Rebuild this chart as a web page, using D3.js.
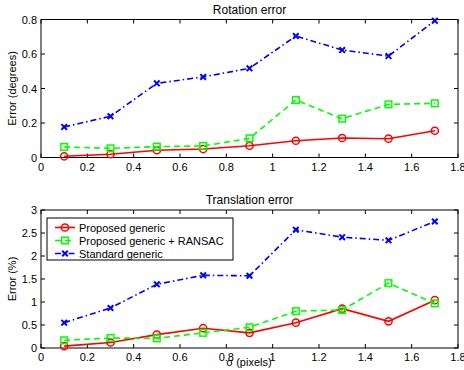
<!DOCTYPE html>
<html>
<head>
<meta charset="utf-8">
<script src="https://cdn.jsdelivr.net/npm/d3@7"></script>
<style>
	body { margin: 0; background: #fff; }
	svg text { font-family: "Liberation Sans", Arial, sans-serif; fill: #000; }
</style>
</head>
<body>
<div id="vis"></div>
<script>
const width = 464;
const height = 370;

const sigma = [0.1, 0.3, 0.5, 0.7, 0.9, 1.1, 1.3, 1.5, 1.7];

const rotProposed = [0.007, 0.019, 0.042, 0.049, 0.068, 0.097, 0.113, 0.109, 0.155];
const rotRansac   = [0.061, 0.053, 0.063, 0.067, 0.111, 0.333, 0.225, 0.308, 0.314];
const rotStandard = [0.177, 0.239, 0.43, 0.467, 0.517, 0.704, 0.623, 0.588, 0.793];

const transProposed = [0.04, 0.12, 0.29, 0.43, 0.33, 0.55, 0.855, 0.58, 1.04];
const transRansac   = [0.167, 0.217, 0.21, 0.33, 0.45, 0.80, 0.826, 1.41, 0.97];
const transStandard = [0.55, 0.87, 1.385, 1.58, 1.57, 2.57, 2.41, 2.34, 2.75];

const xTicks = [0, 0.2, 0.4, 0.6, 0.8, 1, 1.2, 1.4, 1.6, 1.8];
const rotTicks = [0, 0.2, 0.4, 0.6, 0.8];
const transTicks = [0, 0.5, 1, 1.5, 2, 2.5, 3];

const seriesNames = ["Proposed generic", "Proposed generic + RANSAC", "Standard generic"];
const seriesStyle = [
	{ color: "#ff0000", dash: null, marker: "circle" },
	{ color: "#00ff00", dash: "6,4", marker: "square" },
	{ color: "#0000ff", dash: "6,3,1.5,3", marker: "x" }
];

const svg = d3.select("#vis").append("svg")
	.attr("width", width)
	.attr("height", height);

const left = 41, right = 458;

function fmt(d) {
	return d === 0 ? "0" : String(+d.toFixed(1));
}

function drawMarker(g, type, x, y, color) {
	if (type === "circle") {
		g.append("circle").attr("cx", x).attr("cy", y).attr("r", 3.6)
			.attr("fill", "none").attr("stroke", color).attr("stroke-width", 1.5);
	} else if (type === "square") {
		g.append("rect").attr("x", x - 3.3).attr("y", y - 3.3).attr("width", 6.6).attr("height", 6.6)
			.attr("fill", "none").attr("stroke", color).attr("stroke-width", 1.5);
	} else {
		const s = 2.8;
		g.append("path").attr("d", `M${x - s},${y - s}L${x + s},${y + s}M${x - s},${y + s}L${x + s},${y - s}`)
			.attr("stroke", color).attr("stroke-width", 2).attr("fill", "none");
	}
}

function panel(top, bottom, yMax, yTicks, data, title, ylabel, legend) {
	const x = d3.scaleLinear().domain([0, 1.8]).range([left, right]);
	const y = d3.scaleLinear().domain([0, yMax]).range([bottom, top]);
	const g = svg.append("g");

	// ticks inside, mirrored on top and right
	const tl = 4;
	xTicks.forEach(t => {
		g.append("line").attr("x1", x(t)).attr("x2", x(t)).attr("y1", bottom).attr("y2", bottom - tl).attr("stroke", "#000");
		g.append("line").attr("x1", x(t)).attr("x2", x(t)).attr("y1", top).attr("y2", top + tl).attr("stroke", "#000");
		g.append("text").attr("x", x(t)).attr("y", bottom + 13)
			.attr("text-anchor", "middle").style("font-size", "11px").text(fmt(t));
	});
	yTicks.forEach(t => {
		g.append("line").attr("x1", left).attr("x2", left + tl).attr("y1", y(t)).attr("y2", y(t)).attr("stroke", "#000");
		g.append("line").attr("x1", right).attr("x2", right - tl).attr("y1", y(t)).attr("y2", y(t)).attr("stroke", "#000");
		g.append("text").attr("x", left - 4).attr("y", y(t) + 4)
			.attr("text-anchor", "end").style("font-size", "11px").text(fmt(t));
	});

	g.append("rect").attr("x", left).attr("y", top).attr("width", right - left).attr("height", bottom - top)
		.attr("fill", "none").attr("stroke", "#000").attr("stroke-width", 1);

	g.append("text").attr("x", (left + right) / 2).attr("y", top - 6)
		.attr("text-anchor", "middle").style("font-size", "12px").text(title);

	g.append("text")
		.attr("transform", `translate(16,${(top + bottom) / 2}) rotate(-90)`)
		.attr("text-anchor", "middle").style("font-size", "11px").text(ylabel);

	const line = d3.line().x((d, i) => x(sigma[i])).y(d => y(d));

	data.forEach((vals, k) => {
		const st = seriesStyle[k];
		g.append("path").datum(vals).attr("d", line)
			.attr("fill", "none").attr("stroke", st.color).attr("stroke-width", 1.6)
			.attr("stroke-dasharray", st.dash);
		vals.forEach((v, i) => drawMarker(g, st.marker, x(sigma[i]), y(v), st.color));
	});

	if (legend) {
		const lx = 47, ly = 218, lw = 186, lh = 42;
		g.append("rect").attr("x", lx).attr("y", ly).attr("width", lw).attr("height", lh)
			.attr("fill", "#fff").attr("stroke", "#000").attr("stroke-width", 1);
		seriesNames.forEach((name, k) => {
			const st = seriesStyle[k];
			const cy = ly + 9.5 + k * 13;
			g.append("line").attr("x1", lx + 8).attr("x2", lx + 28).attr("y1", cy).attr("y2", cy)
				.attr("stroke", st.color).attr("stroke-width", 1.6).attr("stroke-dasharray", st.dash);
			drawMarker(g, st.marker, lx + 18, cy, st.color);
			g.append("text").attr("x", lx + 32).attr("y", cy + 4)
				.style("font-size", "11px").text(name);
		});
	}
	return x;
}

panel(19.5, 157.5, 0.8, rotTicks, [rotProposed, rotRansac, rotStandard], "Rotation error", "Error (degrees)", false);
panel(210, 348, 3, transTicks, [transProposed, transRansac, transStandard], "Translation error", "Error (%)", true);

svg.append("text").attr("x", 249).attr("y", 366)
	.attr("text-anchor", "middle").style("font-size", "11px").text("σ (pixels)");
</script>
</body>
</html>
